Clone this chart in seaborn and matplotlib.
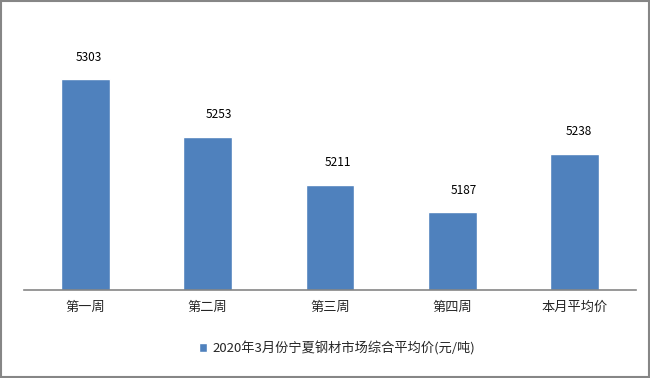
import pandas as pd
import matplotlib.pyplot as plt
import seaborn as sns
from matplotlib.patches import Rectangle

weeks = ['第一周', '第二周', '第三周', '第四周', '本月平均价']
prices = [5303, 5253, 5211, 5187, 5238]
series_name = '2020年3月份宁夏钢材市场综合平均价(元/吨)'

sns.set_style('white')
plt.rcParams['font.family'] = ['Noto Sans CJK SC', 'DejaVu Sans']

df = pd.DataFrame({'week': weeks, 'price': prices, 'series': series_name})

fig = plt.figure(figsize=(6.5, 3.78), dpi=100)
ax = fig.add_axes([24/650, 1-290/378, 612/650, (290-39)/378])
sns.barplot(data=df, x='week', y='price', hue='series', palette=['#4F81BD'],
            saturation=1, width=0.4, ax=ax, legend=True)
ax.set_ylim(5119.5, 5338)
ax.set_xlim(-0.5, len(weeks)-0.5)

# label shifts in pixels, as dragged in the original
label_dx = [4, 11, 8, 11, 4]
for i, v in enumerate(prices):
    ax.annotate(str(v), (i, v), xytext=(label_dx[i], 22), textcoords='offset pixels',
                ha='center', va='center', fontsize=8.5, color='black')

for s in ['top', 'right', 'left']:
    ax.spines[s].set_visible(False)
ax.spines['bottom'].set_color('#868686')
ax.spines['bottom'].set_linewidth(1.2)
ax.set_yticks([])
ax.set_xlabel('')
ax.set_ylabel('')
ax.tick_params(axis='x', length=0, pad=8, labelsize=9.5)

ax.legend(loc='center', bbox_to_anchor=(337/650, 1-348/378), bbox_transform=fig.transFigure,
          frameon=False, fontsize=9.5, handlelength=0.6, handleheight=0.6, handletextpad=0.4)

fig.patches.append(Rectangle((0.001, 0.002), 0.997, 0.995, transform=fig.transFigure,
                             fill=False, edgecolor='#868686', linewidth=1.5))

fig.savefig('out.png', dpi=100)
